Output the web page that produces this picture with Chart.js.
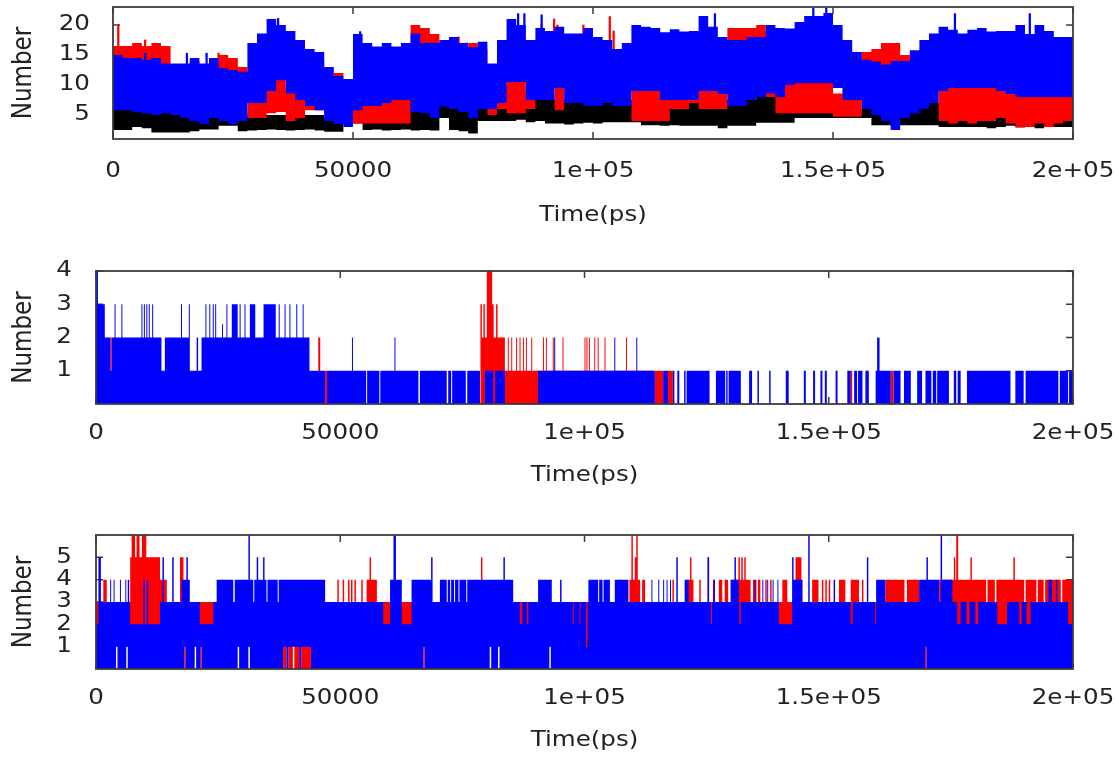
<!DOCTYPE html>
<html>
<head>
<meta charset="utf-8">
<script src="https://cdn.jsdelivr.net/npm/chart.js@4.4.1/dist/chart.umd.min.js"></script>
<style>
  html, body { margin: 0; background: #fff; }
  #wrap { position: relative; width: 1119px; height: 766px; }
  canvas { position: absolute; left: 0; }
</style>
</head>
<body>
<div id="wrap">
  <canvas id="c1" width="1119" height="240" style="top:0"></canvas>
  <canvas id="c2" width="1119" height="265" style="top:240px"></canvas>
  <canvas id="c3" width="1119" height="261" style="top:505px"></canvas>
</div>
<script>
/* Three stacked gnuplot-style traces: each column shows the range a dense line covers. */
const T_MAX       = 200000;
const xTicks      = [0, 50000, 100000, 150000, 200000];
const xTickLabels = ['0', '50000', '1e+05', '1.5e+05', '2e+05'];
const yTicks1     = [5, 10, 15, 20];
const yTicks2     = [1, 2, 3, 4];
const yTicks3     = [1, 2, 3, 4, 5];

const BLUE  = '#0000ff';
const RED   = '#ff0000';
const BLACK = '#000000';
const FRAME = '#3c3c3c';
const TICK  = 7;
const TEXT_STRETCH = 1.17;   // the source picture is wider than it is tall

// panel 1: low / high of each trace, one value per 2000 ps bin
const blueHi1 = [
  15, 14.5, 14.5, 14.2, 14.5, 13.6, 13.6, 13.6, 14.5, 13.6,
  14.5, 12.8, 12.5, 12.2, 17, 18.6, 21, 20, 19, 17.5,
  16, 15.5, 13, 11.5, 11, 18.5, 17, 16.4, 17, 16.4,
  17, 18.6, 17, 17, 17.5, 18, 17, 16.3, 17.2, 13.6,
  17.5, 21, 20, 17.5, 19.5, 19, 19.7, 18.6, 18.6, 19.5,
  18, 17.5, 16, 17, 20, 19.7, 19.5, 18.8, 19.3, 18.9,
  19, 21.5, 19.7, 18, 17.5, 17.5, 18, 18, 20, 19.5,
  19.4, 20.5, 21.5, 21.5, 22, 20, 17.5, 15.5, 14.2, 13.9,
  13.4, 14, 14, 15.8, 17.5, 18.6, 19.7, 19.2, 18.6, 19.2,
  19.5, 18.9, 19, 19, 20, 18.5, 20, 19, 18, 18,
];
const blueLo1 = [
  5.8, 5.8, 5.5, 5.3, 5, 5.3, 5, 4.5, 4, 3.5,
  4.5, 4, 3.5, 4, 7, 7, 9, 10.8, 8.6, 7.5,
  6.5, 5.8, 4, 3.5, 3, 5.8, 6.5, 6.5, 7, 7.5,
  7.5, 5.5, 5.3, 4.5, 6.4, 6, 5.5, 4.5, 6, 6,
  7, 10.5, 10.5, 7.5, 7.5, 7.5, 9.5, 7, 7, 6.5,
  6.5, 7, 6.5, 6.5, 9, 9, 9, 7.5, 7.5, 7.5,
  7.5, 9, 9, 8.5, 6.5, 6.5, 7.5, 8, 8.6, 8,
  10, 10.3, 10.3, 10.3, 10.3, 9.5, 7.5, 7.5, 6, 5,
  4, 2.5, 4.5, 5.3, 6, 7, 9, 9.5, 9.5, 9.5,
  9.5, 9.5, 9, 8.5, 8, 8, 8, 8, 8, 8,
];
const redHi1 = [
  16.5, 16.5, 17, 16.5, 17, 16.5, 9, 9, 14, 12,
  14.5, 15, 14.5, 13, 9.5, 9.5, 11.7, 11.5, 9, 9,
  8.6, 14.5, 8, 12, 5.8, 8, 8, 8, 8, 15,
  8, 20, 19.5, 18.5, 15, 16, 16, 17, 16, 8,
  10, 11.7, 11, 9, 12, 12, 9.7, 16, 16, 16,
  16, 15, 15, 15, 9.7, 9.7, 9.7, 9.7, 9, 9,
  9.7, 9.7, 9.7, 9.7, 19.5, 19.5, 19.5, 20, 19, 10.8,
  10.8, 10.8, 10.8, 10.8, 10.8, 8.6, 16, 8.6, 15.5, 16,
  17, 17, 15, 13, 13, 13, 10, 10.8, 10, 10,
  10.8, 10, 10.8, 10.5, 10.8, 10, 10, 10.5, 10, 10,
];
const redLo1 = [
  11, 10.5, 10.5, 11, 10, 10, 5.5, 5.5, 6, 7,
  8, 9, 8, 8, 4.5, 4.5, 5.3, 5.5, 4, 4.5,
  5.8, 5.8, 5, 3.6, 3.6, 3.6, 3.6, 3.6, 3.6, 3.6,
  3.6, 12, 12, 12, 11, 11, 11, 11, 7, 5,
  6, 5.3, 5.3, 6, 9, 10, 5.8, 12, 12, 12,
  12, 12, 11, 11, 4, 4, 4, 4, 6, 6,
  7, 6, 6, 6, 12, 12, 12, 12, 8, 5.3,
  5.3, 5.3, 5.3, 5.3, 5.3, 4.7, 4.7, 4.7, 11, 11,
  12, 11, 12, 9, 9, 9, 4, 3.6, 4, 3.6,
  4, 4, 4.5, 3.6, 3, 3, 3.6, 3, 3.6, 4,
];
const blackHi1 = [
  6.5, 6.5, 6.5, 6, 6, 6, 6, 6, 7, 7,
  7, 5, 5, 5, 5, 5, 5, 5, 5, 5,
  5, 5, 4.5, 4.5, 4.5, 4.5, 7.5, 7.5, 7.5, 7.5,
  7.5, 7.5, 7.5, 7.5, 7.5, 7.5, 7.5, 7, 7.5, 7.5,
  7.5, 7.5, 7.5, 7.5, 7.5, 7.5, 7.5, 7.5, 7.5, 7.5,
  7.5, 7.5, 7.5, 7.5, 7.5, 7.5, 7.5, 7.5, 7.5, 7.5,
  7.5, 7.5, 7.5, 7.5, 7.5, 7.5, 7.5, 9, 9, 9,
  9, 6, 6, 6, 6, 6, 6, 6, 6, 6,
  6, 6, 6, 6, 6, 7, 7, 7, 7, 7,
  7, 7, 7, 7, 7, 7, 7, 7, 7, 7,
];
const blackLo1 = [
  2.5, 2.5, 3, 2.8, 2.1, 2.1, 2.1, 2.1, 2.3, 2.6,
  2.6, 3.2, 3.2, 2.3, 2.4, 2.5, 2.6, 2.5, 2.4, 2.5,
  2.6, 2.4, 2.2, 2.2, 3.6, 3.6, 2.5, 2.6, 2.4, 2.5,
  2.6, 2.4, 2.5, 2.4, 4.5, 2.5, 2.3, 1.9, 4, 4,
  4, 4, 4.2, 3.8, 4, 3.6, 3.6, 3.4, 3.6, 3.7,
  3.6, 3.8, 3.8, 3.8, 3.8, 3.3, 3.3, 3.2, 3.3, 3.2,
  3.2, 3.2, 3.2, 2.8, 3.2, 3.2, 3.2, 3.7, 3.7, 3.7,
  3.7, 4.5, 4.5, 4.5, 4.5, 4.5, 4.5, 4.5, 4.5, 3.3,
  3.3, 3.3, 3.3, 3.3, 3.3, 3.3, 3, 3, 3, 3,
  3, 2.8, 3, 3.2, 2.9, 3, 2.8, 3.1, 3, 3,
];
const BIN1 = 2000;

// panel 1: single sharp excursions, [time, from, to]
const blueSpikes1 = [
  [6700,12,15.3],[15400,12,15.3],[19500,12,15.3],[34400,12,21.1],[51500,12,18.9],
  [82300,12,20],[84400,12,21.9],[85700,12,21.9],[89300,12,21.7],[125400,12,21.9],
  [145900,12,22.8],[148600,12,22.8],[175400,12,21.9],[191000,12,21.9],
];
const redSpikes1 = [
  [1100,12,20],[6700,12,17.5],[10100,12,16.4],[17000,9,13.9],[22000,10,15.3],
  [43500,9,15],[58400,8,15],[72000,11,18],[73700,11,17],[76500,11,16.5],
  [89300,10,20],[91900,10,21],[92600,10,20],[96000,12,18],[97000,12,17.5],[98000,12,20],
  [103500,12,21.4],[104300,12,19],[137300,12,19],[154800,10,15.5],
];

// panels 2 and 3: runs of [start time (ps), low, high]
const p2Blue = [
  [0,0,4],[400,0,3],[1800,0,2],[2900,0,1],[3200,0,2],[3800,0,3],[4000,0,2],[5200,0,3],[5400,0,2],
  [9300,0,3],[9500,0,2],[9800,0,3],[10000,0,2],[10300,0,3],[10500,0,2],[10800,0,3],[11000,0,2],[11500,0,3],[11700,0,2],
  [13400,0,1],[14100,0,2],[17400,0,3],[17600,0,2],[19000,0,3],[19200,0,1],[20600,0,2],[20900,0,1],[21600,0,2],
  [22400,0,3],[22600,0,2],[23200,0,3],[23400,0,2],[23900,0,3],[24100,0,2],[24400,0,3],[24600,0,2],[25800,0,2.4],[26000,0,2],
  [26700,0,3],[26900,0,2],[27800,0,3],[29000,0,2],[29400,0,3],[29600,0,2],[30400,0,3],[30600,0,2],[31500,0,3],[32600,0,2],
  [34300,0,3],[36800,0,2],[37400,0,3],[37600,0,2],[38600,0,3],[38800,0,2],[39600,0,3],[39800,0,2],[41000,0,3],[41200,0,2],
  [42300,0,3],[42500,0,2],[43700,0,1],[46900,0,0],[47300,0,1],[52400,0,2],[52600,0,1],[55300,0,0],[55500,0,1],[58000,0,0],
  [58200,0,1],[61100,0,2],[61300,0,1],[66000,0,0],[66300,0,1],[71800,0,0],[72100,0,1],[72700,0,0],[72900,0,1],[75700,0,0],
  [76000,0,1],[78600,0,0],[79600,0,1],[81300,0,0],[81700,0,1],[83700,0,0],[90500,0,1],[93800,0,2],[94000,0,1],[106100,0,2],
  [106300,0,1],[110600,0,2],[110800,0,1],[114400,0,0],[116100,0,1],[117100,0,0],[118100,0,1],[118400,0,0],[119000,0,1],
  [119400,0,0],[120400,0,1],[120700,0,0],[120900,0,1],[125600,0,0],[126900,0,1],[128800,0,0],[129000,0,1],[129300,0,0],
  [129500,0,1],[132000,0,0],[133700,0,1],[134300,0,0],[135400,0,1],[135700,0,0],[137800,0,1],[138100,0,0],[141200,0,1],
  [141800,0,0],[144900,0,1],[145300,0,0],[146800,0,1],[147200,0,0],[148300,0,1],[148700,0,0],[149200,0,1],[149600,0,0],
  [151400,0,1],[151800,0,0],[153800,0,1],[154500,0,0],[155200,0,1],[155800,0,0],[156000,0,1],[156900,0,0],[157500,0,1],
  [158200,0,0],[159600,0,1],[159900,0,2],[160400,0,1],[162700,0,0],[163300,0,1],[164700,0,0],[165400,0,1],[166800,0,0],
  [168100,0,1],[169100,0,0],[169800,0,1],[171000,0,0],[171300,0,1],[172000,0,0],[172200,0,1],[174600,0,0],[175600,0,1],
  [176100,0,0],[176400,0,1],[177000,0,0],[178300,0,1],[187200,0,0],[188200,0,1],[189900,0,0],[190300,0,1],[197000,0,0],
  [197300,0,1],[199000,0,0],[199200,0,1],
];
const p2Red = [
  [0,0,0],[2900,0,2],[3200,0,0],[45500,0,2],[45900,0,0],[46900,0,1],[47300,0,0],
  [78700,0,3],[79000,0,2],[79300,0,3],[79600,0,2],[80000,0,4],[81100,0,3],[81400,0,2],[81900,0,3],[82200,0,2],[83700,0,1],
  [84300,0,2],[84500,0,1],[85000,0,2],[85200,0,1],[86000,0,2],[86200,0,1],[86700,0,2],[86900,0,1],
  [87400,0,2],[87600,0,1],[88000,0,2],[88200,0,1],[89100,0,2],[89300,0,1],
  [91500,0,2],[91700,0,1],[92100,0,2],[92300,0,1],[93500,0,2],[93700,0,1],[95500,0,2],[95700,0,1],
  [100000,0,2],[100200,0,1],[100400,0,2],[100600,0,1],[100900,0,2],[101100,0,1],[102000,0,2],[102200,0,1],
  [102700,0,2],[102900,0,1],[104100,0,2],[104300,0,1],[108500,0,2],[108700,0,1],[114000,0,0],
  [114400,0,1],[116100,0,0],[117100,0,1],[118100,0,0],[154500,0,1],[154800,0,0],[162700,0,1],[163300,0,0],
];
const p3Blue = [
  [0,0,2],[500,0,5],[1000,0,3],[2900,0,4],[3100,0,3],[3600,0,4],[3800,0,3],[4100,1,3],[4400,0,3],[4900,0,4],
  [5100,0,3],[6000,0,4],[6200,1,3],[6500,0,4],[6800,0,3],[7000,0,2],[9700,0,4],[10000,0,2],[10400,0,4],[10700,0,2],
  [13100,0,3],[13600,0,5],[13900,0,3],[15600,0,5],[15900,0,3],[17500,0,4],[18100,1,4],[18400,0,4],[18500,0,5],[18800,0,4],
  [19200,0,3],[20200,1,3],[20500,0,3],[21300,1,2],[21600,0,2],[24000,0,3],[24700,0,4],[28100,0,3],[28400,0,4],[29000,1,4],
  [29300,0,4],[31200,1,6],[31500,0,4],[32200,0,3],[32400,0,4],[32900,0,5],[33200,0,4],[34200,0,5],[34500,0,4],[34900,0,3],
  [35100,0,4],[37200,0,3],[37400,0,4],[38300,1,4],[39000,0,4],[39400,1,4],[41600,0,4],[42000,1,4],[44000,0,4],[46900,0,3],
  [58800,0,2],[60200,0,4],[60900,0,6],[61400,0,4],[62600,0,2],[64600,0,4],[67000,1,4],[67300,0,4],[68600,0,5],[68900,0,3],
  [70400,0,4],[71800,0,3],[72000,0,4],[72500,0,3],[72700,0,4],[73300,0,3],[73500,0,4],[74200,0,3],[74400,0,4],[75800,0,3],
  [76000,0,4],[80600,1,4],[80900,0,4],[82300,1,4],[82600,0,4],[83400,0,5],[83700,0,4],[85400,0,3],[86800,0,2],[87300,0,3],
  [88200,0,2],[88500,0,3],[90500,0,4],[92800,1,4],[93100,0,4],[93300,0,3],[95000,0,4],[95300,0,3],[97600,0,2],[97800,0,3],
  [99000,0,2],[99200,0,3],[100300,0,1],[100600,0,3],[100800,0,4],[102800,0,3],[103000,0,4],[103700,0,3],[103900,0,4],
  [105200,0,3],[106200,0,4],[109000,0,3],[113700,0,4],[113900,0,3],[115100,0,4],[115300,0,3],[116100,0,4],[116300,0,3],
  [116800,0,4],[117000,0,3],[117500,0,4],[117700,0,3],[118800,0,5],[119100,0,3],[120500,0,4],[121300,0,3],[125200,0,5],
  [125500,0,3],[125900,0,2],[126100,0,3],[126400,0,4],[126700,0,3],[129900,0,4],[130700,0,5],[131000,0,4],[131600,0,3],
  [131700,0,2],[132000,0,3],[134800,0,4],[135000,0,3],[136400,0,4],[136600,0,3],[137400,0,4],[137600,0,3],[138500,0,4],
  [138700,0,3],[139500,0,4],[139700,0,3],[139800,0,2],[142500,0,5],[142800,0,4],[144600,0,3],[145800,0,6],[146100,0,3],
  [151000,0,4],[151300,0,3],[154500,0,2],[154900,0,3],[157800,0,5],[158100,0,3],[159500,0,2],[159700,0,4],[161600,0,3],
  [168500,0,4],[169700,1,4],[170000,0,5],[170300,0,4],[172600,0,3],[172900,0,6],[173200,0,4],[175300,0,3],[176300,0,2],
  [177000,0,3],[178200,0,2],[178800,0,3],[180000,0,2],[180600,0,3],[184500,0,2],[186500,0,3],[189000,0,2],[189500,0,3],
  [190500,0,2],[191300,0,3],[195000,0,4],[195700,0,3],[196500,0,4],[196800,0,3],[199000,0,2],
];
const p3Red = [
  [0,0,3],[500,1,3],[1500,1,4],[2200,1,3],[7000,1,5],[7300,1,6],[8000,1,5],[8300,1,6],[8900,1,5],[9400,1,6],
  [10300,1,5],[13100,1,4],[14500,1,3],[17200,1,5],[17900,1,3],[18100,0,3],[18400,1,3],[21300,0,3],[21600,1,3],
  [38300,0,3],[39000,1,3],[39400,0,3],[40300,1,3],[40600,0,3],[41600,1,3],[42000,0,3],[44000,1,3],
  [49400,1,4],[49700,1,3],[50500,1,4],[50800,1,3],[51600,1,4],[51900,1,3],[52200,1,4],[52500,1,3],[52900,1,4],
  [53200,1,3],[54300,1,4],[54600,1,3],[55400,1,4],[56000,1,5],[56300,1,4],[57500,1,3],[59000,0,3],[59300,1,3],
  [67000,0,3],[67300,1,3],[78800,1,5],[79100,1,3],[109200,1,4],[109600,1,6],[109900,1,4],[110300,1,5],[110600,1,6],
  [110900,1,4],[111400,1,3],[111800,1,4],[112400,1,3],[118000,1,4],[118300,1,3],[120900,1,4],[121600,1,5],[121900,1,4],
  [122300,1,3],[123500,1,4],[123800,1,3],[125200,0,5],[125500,1,3],[126300,1,4],[126700,1,3],[127500,1,4],[128200,1,3],
  [128700,1,4],[129400,1,3],[130500,1,4],[131500,1,5],[131800,1,4],[132100,1,5],[132400,1,4],[132700,1,5],[133000,1,4],
  [134000,1,3],[134500,1,4],[135200,1,3],[135500,1,4],[136000,1,3],[137000,1,4],[137300,1,3],[138000,1,4],[138300,1,3],
  [140500,1,4],[141500,1,3],[143200,1,5],[144400,1,4],[144600,1,3],[146600,1,4],[147900,1,3],[148600,1,4],[148900,1,3],
  [149300,1,4],[149600,1,3],[150000,1,4],[150300,1,3],[152100,1,4],[153400,1,3],[154500,1,4],[156200,1,3],[156800,1,4],
  [157100,1,3],[161600,1,4],[165500,1,3],[166000,1,4],[168500,1,3],[169700,0,3],[170000,1,3],[172600,1,4],[175600,1,5],
  [175900,1,4],[176100,1,6],[176500,1,4],[179000,1,5],[179300,1,4],[182200,1,3],[182500,1,4],[184000,1,3],[184300,1,4],
  [187800,1,5],[188100,1,4],[190000,1,3],[190300,1,4],[192500,1,3],[192800,1,4],[194000,1,3],[194300,1,4],[197500,1,3],
  [197800,1,4],
];

Chart.defaults.font.family = '"DejaVu Sans", sans-serif';
Chart.defaults.font.size   = 21;
Chart.defaults.color       = '#222';

function binRuns(lo, hi) {
  return lo.map((v, i) => [i * BIN1, v, hi[i]]);
}

// a stepped high line filled down to a stepped low line
function band(runs, color) {
  const pts  = runs.slice();
  const last = pts[pts.length - 1];
  if (last[0] < T_MAX) pts.push([T_MAX, last[1], last[2]]);
  const common = {
    stepped: true, pointRadius: 0, borderWidth: 0,
    borderColor: 'rgba(0,0,0,0)', backgroundColor: color,
  };
  return [
    { ...common, data: pts.map(r => ({ x: r[0], y: r[2] })), fill: '+1' },
    { ...common, data: pts.map(r => ({ x: r[0], y: r[1] })), fill: false },
  ];
}

// thin floating bars for isolated excursions
function spikes(list, color) {
  return {
    type: 'bar', grouped: false, barThickness: 1.6, backgroundColor: color,
    data: list.map(s => ({ x: s[0], y: [s[1], s[2]] })),
  };
}

const gnuFrame = {
  id: 'gnuFrame',
  beforeInit(chart) {
    // widen every label about its anchor, across the screen's x direction
    const ctx  = chart.ctx;
    const fill = ctx.fillText.bind(ctx);
    ctx.fillText = (text, x, y) => {
      const m = ctx.getTransform();
      ctx.save();
      ctx.translate(x, y);
      if (Math.abs(m.b) > 0.5) ctx.scale(1, TEXT_STRETCH);
      else ctx.scale(TEXT_STRETCH, 1);
      fill(text, 0, 0);
      ctx.restore();
    };
  },
  beforeDatasetsDraw(chart) {
    const { ctx, chartArea: a, scales: { x, y } } = chart;
    ctx.save();
    ctx.strokeStyle = FRAME;
    ctx.lineWidth   = 1.5;
    ctx.beginPath();
    x.ticks.forEach(t => {
      const px = x.getPixelForValue(t.value);
      ctx.moveTo(px, a.bottom); ctx.lineTo(px, a.bottom - TICK);
      ctx.moveTo(px, a.top);    ctx.lineTo(px, a.top + TICK);
    });
    y.ticks.forEach(t => {
      const py = y.getPixelForValue(t.value);
      ctx.moveTo(a.left, py);  ctx.lineTo(a.left + TICK, py);
      ctx.moveTo(a.right, py); ctx.lineTo(a.right - TICK, py);
    });
    ctx.stroke();
    ctx.restore();
  },
  afterDatasetsDraw(chart) {
    const { ctx, chartArea: a } = chart;
    ctx.save();
    ctx.strokeStyle = FRAME;
    ctx.lineWidth   = 1.8;
    ctx.strokeRect(a.left, a.top, a.right - a.left, a.bottom - a.top);
    ctx.restore();
  },
};

function makeChart(id, datasets, o) {
  return new Chart(document.getElementById(id), {
    type: 'line',
    data: { datasets },
    options: {
      responsive: false,
      animation:  false,
      events:     [],
      layout: { padding: { top: o.top, right: 46, bottom: 0, left: 0 } },
      plugins: { legend: { display: false }, tooltip: { enabled: false } },
      scales: {
        x: {
          type: 'linear', min: 0, max: T_MAX, offset: false,
          grid:   { display: false, drawTicks: false, offset: false },
          border: { display: false },
          afterBuildTicks: s => { s.ticks = xTicks.map(v => ({ value: v })); },
          afterFit: s => { s.height = o.xh; s.paddingLeft = 0; s.paddingRight = 0; },
          ticks: { padding: o.xtp, maxRotation: 0, autoSkip: false, callback: (v, i) => xTickLabels[i] },
          title: { display: true, text: 'Time(ps)', padding: { top: 0, bottom: o.xtb } },
        },
        y: {
          min: o.min, max: o.max,
          grid:   { display: false, drawTicks: false },
          border: { display: false },
          afterBuildTicks: s => { s.ticks = o.yTicks.map(v => ({ value: v })); },
          afterFit: s => { s.width = o.yw; s.paddingTop = 0; s.paddingBottom = 0; },
          ticks: { padding: o.ytp, autoSkip: false, callback: v => String(v) },
          title: { display: true, text: 'Number', font: { size: 23 }, padding: { top: 10, bottom: 0 } },
        },
      },
    },
    plugins: [gnuFrame],
  });
}

// earlier entries are painted last, so blue ends up on top
makeChart('c1', [
  spikes(blueSpikes1, BLUE),
  ...band(binRuns(blueLo1, blueHi1), BLUE),
  spikes(redSpikes1, RED),
  ...band(binRuns(redLo1, redHi1), RED),
  ...band(binRuns(blackLo1, blackHi1), BLACK),
], { top: 7, xh: 101, xtp: 20, xtb: 12, yw: 113, ytp: 23, min: 1, max: 23, yTicks: yTicks1 });

makeChart('c2', [
  ...band(p2Blue, BLUE),
  ...band(p2Red, RED),
], { top: 31, xh: 101, xtp: 17, xtb: 17, yw: 96, ytp: 24, min: 0, max: 4, yTicks: yTicks2 });

makeChart('c3', [
  ...band(p3Blue, BLUE),
  ...band(p3Red, RED),
], { top: 30, xh: 97, xtp: 17, xtb: 13, yw: 96, ytp: 24, min: 0, max: 6, yTicks: yTicks3 });
</script>
</body>
</html>
